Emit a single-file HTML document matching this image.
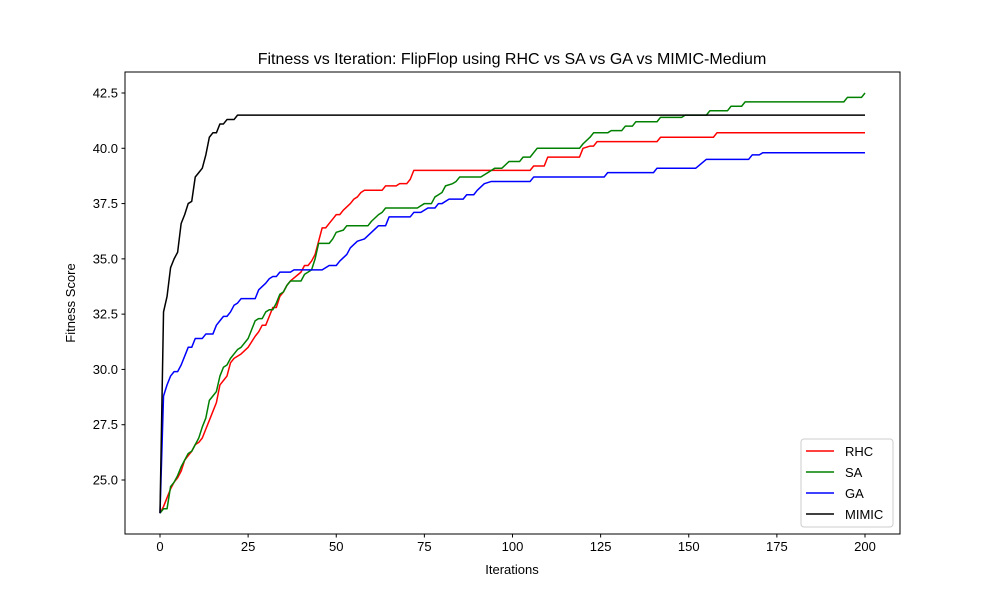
<!DOCTYPE html>
<html><head><meta charset="utf-8"><style>
body{margin:0;background:#fff;}
svg text{font-family:"Liberation Sans","DejaVu Sans",sans-serif;fill:#000;}
</style></head><body>
<svg id="chart" width="1000" height="600"></svg>
<script>
const xTicks=[0,25,50,75,100,125,150,175,200];
const yTicks=[25.0,27.5,30.0,32.5,35.0,37.5,40.0,42.5];
const seriesNames=["RHC","SA","GA","MIMIC"];
const seriesColors=["#ff0000","#008000","#0000ff","#000000"];
const rhcX=[0,1,2,3,4,5,6,7,8,9,10,11,12,13,14,15,16,17,18,19,20,21,23,25,27,28,29,30,31,32,33,34,35,36,37,40,41,42,43,44,45,46,47,48,49,50,51,52,54,55,56,57,58,63,64,67,68,70,71,72,105,106,109,110,119,120,122,123,124,141,142,157,158,200];
const rhcY=[23.5,23.8,24.2,24.6,24.9,25.1,25.4,25.9,26.1,26.3,26.6,26.7,26.9,27.3,27.7,28.1,28.5,29.3,29.5,29.7,30.3,30.5,30.7,31.0,31.5,31.7,32.0,32.0,32.4,32.8,32.8,33.3,33.5,33.8,34.0,34.4,34.7,34.7,34.9,35.2,35.8,36.4,36.4,36.6,36.8,37.0,37.0,37.2,37.5,37.7,37.8,38.0,38.1,38.1,38.3,38.3,38.4,38.4,38.6,39.0,39.0,39.2,39.2,39.6,39.6,40.0,40.1,40.1,40.3,40.3,40.5,40.5,40.7,40.7];
const saX=[0,1,2,3,4,5,6,7,8,9,10,11,12,13,14,15,16,17,18,19,20,21,22,23,25,26,27,28,29,30,31,32,33,34,35,36,37,40,41,43,44,45,48,49,50,52,53,59,60,62,63,64,73,75,77,78,79,80,81,83,84,85,91,93,95,97,99,102,103,105,106,107,119,120,122,123,127,128,131,132,134,135,141,142,148,149,155,156,161,162,165,166,194,195,199,200];
const saY=[23.5,23.7,23.7,24.7,24.9,25.2,25.6,25.9,26.2,26.3,26.6,26.9,27.4,27.8,28.6,28.8,29.0,29.7,30.1,30.2,30.5,30.7,30.9,31.0,31.4,31.8,32.2,32.3,32.3,32.6,32.7,32.7,33.0,33.4,33.5,33.8,34.0,34.0,34.3,34.5,35.0,35.7,35.7,35.9,36.2,36.3,36.5,36.5,36.7,37.0,37.1,37.3,37.3,37.5,37.5,37.8,37.9,38.0,38.3,38.4,38.5,38.7,38.7,38.9,39.1,39.1,39.4,39.4,39.6,39.6,39.8,40.0,40.0,40.2,40.5,40.7,40.7,40.8,40.8,41.0,41.0,41.2,41.2,41.4,41.4,41.5,41.5,41.7,41.7,41.9,41.9,42.1,42.1,42.3,42.3,42.5];
const gaX=[0,1,2,3,4,5,6,7,8,9,10,12,13,15,16,17,18,19,20,21,22,23,27,28,30,31,32,33,34,37,38,46,48,50,51,53,54,56,58,60,62,64,65,71,72,74,76,78,79,80,82,86,87,89,90,92,94,105,106,126,127,140,141,152,155,167,168,170,171,200];
const gaY=[23.5,28.8,29.3,29.7,29.9,29.9,30.2,30.6,31.0,31.0,31.4,31.4,31.6,31.6,32.0,32.2,32.4,32.4,32.6,32.9,33.0,33.2,33.2,33.6,33.9,34.1,34.2,34.2,34.4,34.4,34.5,34.5,34.7,34.7,34.9,35.2,35.5,35.8,35.9,36.2,36.5,36.5,36.9,36.9,37.1,37.1,37.3,37.3,37.5,37.5,37.7,37.7,37.9,37.9,38.1,38.4,38.5,38.5,38.7,38.7,38.9,38.9,39.1,39.1,39.5,39.5,39.7,39.7,39.8,39.8];
const mimicX=[0,1,2,3,4,5,6,7,8,9,10,11,12,13,14,15,16,17,18,19,21,22,200];
const mimicY=[23.5,32.6,33.3,34.6,35.0,35.3,36.6,37.0,37.5,37.6,38.7,38.9,39.1,39.7,40.5,40.7,40.7,41.1,41.1,41.3,41.3,41.5,41.5];
const seriesX=[rhcX,saX,gaX,mimicX];
const seriesY=[rhcY,saY,gaY,mimicY];

const L=125,R=900,T=72,B=534;
const xs=v=>160+(v-0)*(865-160)/200;
const ys=v=>480-(v-25)*(480-93)/17.5;
const svg=document.getElementById('chart');
const NS="http://www.w3.org/2000/svg";
function mk(tag,attrs,parent){const e=document.createElementNS(NS,tag);for(const k in attrs)e.setAttribute(k,attrs[k]);(parent||svg).appendChild(e);return e;}

// title
let t=mk('text',{x:512,y:64,'text-anchor':'middle','font-size':16});t.textContent="Fitness vs Iteration: FlipFlop using RHC vs SA vs GA vs MIMIC-Medium";



// series
seriesNames.forEach((n,i)=>{
  const pts=seriesX[i].map((x,j)=>xs(x).toFixed(2)+","+ys(seriesY[i][j]).toFixed(2)).join(" ");
  const p=mk('polyline',{points:pts,fill:'none',stroke:seriesColors[i],'stroke-width':1.5,'stroke-linejoin':'round'});
  
  
});

// frame
const f=mk('rect',{x:L,y:T,width:R-L,height:B-T,fill:'none',stroke:'#000','stroke-width':1});



xTicks.forEach(v=>{
  mk('line',{x1:xs(v),x2:xs(v),y1:B,y2:B+3.5,stroke:'#000'});
  const l=mk('text',{x:xs(v),y:B+17,'text-anchor':'middle','font-size':13});l.textContent=v;
  
  
});
yTicks.forEach(v=>{
  mk('line',{x1:L-3.5,x2:L,y1:ys(v),y2:ys(v),stroke:'#000'});
  const l=mk('text',{x:L-7,y:ys(v)+4.5,'text-anchor':'end','font-size':13});l.textContent=v.toFixed(1);
  
  
});
let xl=mk('text',{x:512,y:574,'text-anchor':'middle','font-size':13});xl.textContent="Iterations";


let yl=mk('text',{x:0,y:0,'text-anchor':'middle','font-size':13,transform:'translate(75,303) rotate(-90)'});yl.textContent="Fitness Score";



// legend
const lg=mk('g',{});


mk('rect',{x:801,y:439,width:92,height:88,rx:3,fill:'#fff',stroke:'#ccc'},lg);
seriesNames.forEach((n,i)=>{
  const y=451+i*21;
  mk('line',{x1:806,x2:834,y1:y,y2:y,stroke:seriesColors[i],'stroke-width':1.5},lg);
  const e=mk('text',{x:845,y:y+5,'font-size':13},lg);e.textContent=n;
  
  
});
</script>
</body></html>
